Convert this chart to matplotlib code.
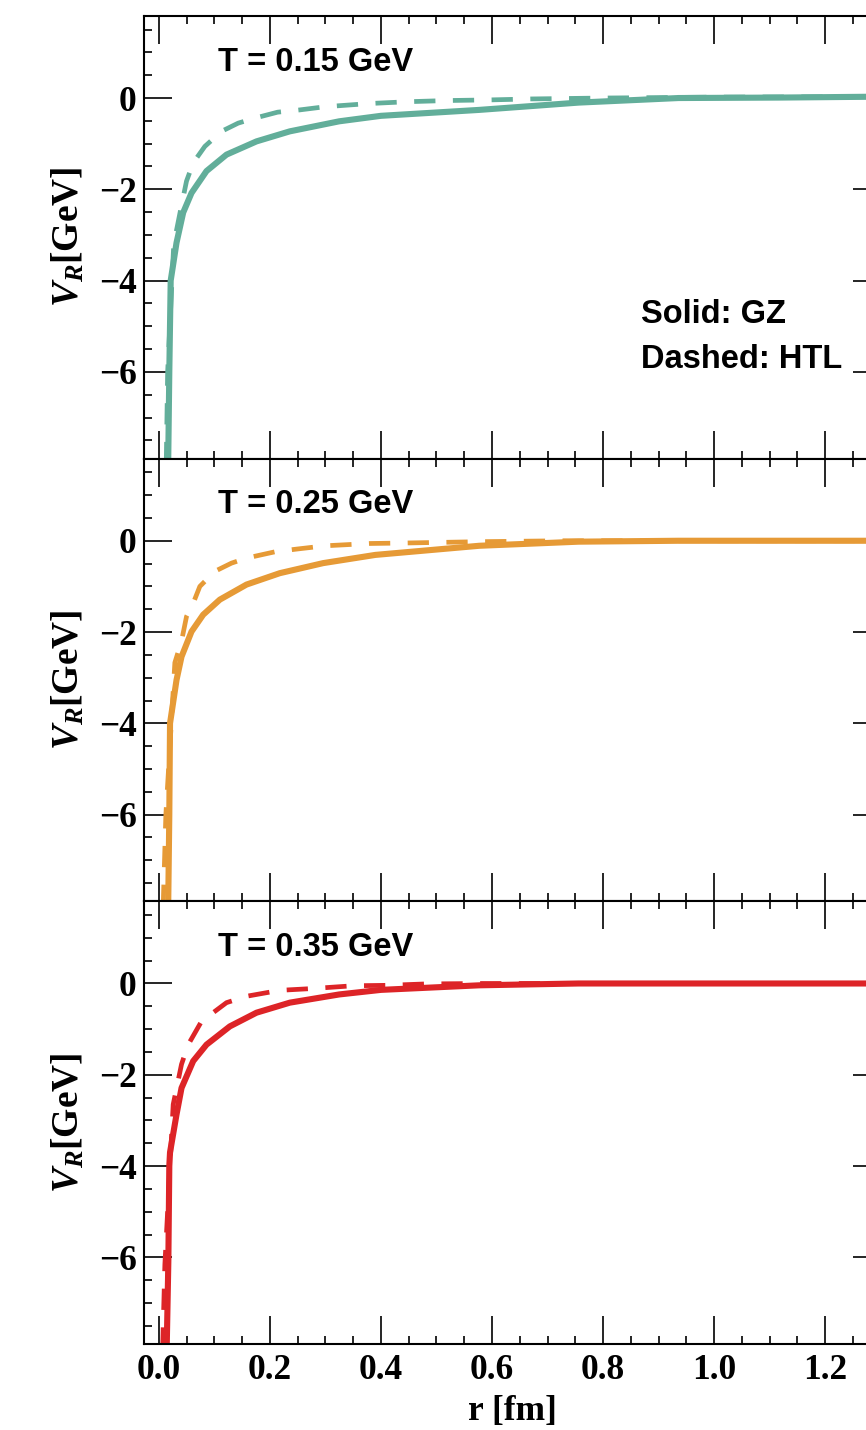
import matplotlib
matplotlib.use("Agg")
import matplotlib.pyplot as plt
from matplotlib.font_manager import FontProperties
from matplotlib.ticker import MultipleLocator, FormatStrFormatter

plt.rcParams['mathtext.fontset'] = 'custom'
plt.rcParams['mathtext.rm'] = 'Liberation Serif:bold'
plt.rcParams['mathtext.it'] = 'Liberation Serif:bold:italic'
plt.rcParams['mathtext.bf'] = 'Liberation Serif:bold'

temps = ["0.15", "0.25", "0.35"]
colors = ["#62AE9A", "#E69A36", "#DD2427"]

# real part of the potential, GZ (solid) and HTL (dashed), r in fm, V in GeV
r_gz_015 = [0.0170, 0.0190, 0.0215, 0.032, 0.044, 0.059, 0.086, 0.122, 0.176,
            0.236, 0.325, 0.400, 0.577, 0.756, 0.936, 1.116, 1.30]
v_gz_015 = [-8.0, -6.0, -4.0, -3.17, -2.51, -2.08, -1.60, -1.24, -0.95,
            -0.73, -0.51, -0.39, -0.26, -0.10, 0.0, 0.01, 0.03]
r_htl_015 = [0.0135, 0.016, 0.027, 0.041, 0.050, 0.062, 0.083, 0.113, 0.143, 0.173,
             0.214, 0.254, 0.30, 0.38, 0.45, 0.52, 0.60, 0.67, 0.80, 1.0, 1.3]
v_htl_015 = [-8.0, -6.0, -3.2, -2.35, -1.82, -1.42, -1.06, -0.73, -0.55, -0.44,
             -0.31, -0.26, -0.19, -0.12, -0.08, -0.055, -0.04, -0.02, 0.0, 0.02, 0.03]

r_gz_025 = [0.0170, 0.019, 0.0203, 0.032, 0.041, 0.059, 0.080, 0.110, 0.158,
            0.218, 0.296, 0.390, 0.577, 0.756, 0.936, 1.30]
v_gz_025 = [-8.0, -6.0, -4.0, -3.05, -2.54, -1.99, -1.62, -1.29, -0.96,
            -0.71, -0.49, -0.31, -0.11, -0.02, 0.0, 0.0]
r_htl_025 = [0.008, 0.0128, 0.029, 0.041, 0.050, 0.062, 0.074, 0.101, 0.131,
             0.158, 0.21, 0.25, 0.30, 0.38, 0.44, 0.58, 0.73, 1.3]
v_htl_025 = [-8.0, -6.0, -2.67, -2.2, -1.66, -1.37, -1.0, -0.67, -0.49,
             -0.38, -0.24, -0.18, -0.11, -0.06, -0.05, -0.02, 0.0, 0.0]

r_gz_035 = [0.0143, 0.0173, 0.019, 0.0203, 0.032, 0.041, 0.062, 0.086, 0.128,
            0.176, 0.236, 0.325, 0.400, 0.577, 0.756, 1.3]
v_gz_035 = [-8.0, -6.07, -4.0, -3.7, -2.87, -2.29, -1.70, -1.34, -0.94,
            -0.64, -0.42, -0.24, -0.14, -0.04, 0.0, 0.0]
r_htl_035 = [0.007, 0.011, 0.026, 0.041, 0.053, 0.077, 0.122, 0.158, 0.218,
             0.278, 0.35, 0.413, 0.48, 0.58, 1.3]
v_htl_035 = [-8.0, -6.16, -2.65, -1.77, -1.34, -0.83, -0.42, -0.28, -0.15,
             -0.11, -0.05, -0.04, -0.01, 0.0, 0.0]

gz = [(r_gz_015, v_gz_015), (r_gz_025, v_gz_025), (r_gz_035, v_gz_035)]
htl = [(r_htl_015, v_htl_015), (r_htl_025, v_htl_025), (r_htl_035, v_htl_035)]

tick_font = FontProperties(family="Liberation Serif", weight="bold", size=25.5)
label_font = dict(family="Liberation Serif", weight="bold", size=27)
sans = dict(family="Liberation Sans", weight="bold", size=23.5)

fig = plt.figure(figsize=(8.66, 14.3), dpi=100)
left, width = 0.166, 0.851
bottom, h = 0.0601, 0.3096

axes = []
for i in range(3):
    ax = fig.add_axes([left, bottom + (2 - i) * h, width, h])
    axes.append(ax)
    r, v = htl[i]
    ax.plot(r, v, color=colors[i], lw=3.4, dashes=(4.5, 3.7), dash_capstyle="butt")
    r, v = gz[i]
    ax.plot(r, v, color=colors[i], lw=4.4, solid_joinstyle="round")

    ax.set_xlim(-0.027, 1.3)
    ax.set_ylim(-7.9, 1.8)
    ax.xaxis.set_major_locator(MultipleLocator(0.2))
    ax.xaxis.set_minor_locator(MultipleLocator(0.05))
    ax.yaxis.set_major_locator(MultipleLocator(2))
    ax.yaxis.set_minor_locator(MultipleLocator(0.5))
    ax.tick_params(which="both", direction="in", top=True, right=True, width=1.2)
    ax.tick_params(which="major", length=20.5)
    ax.tick_params(which="minor", length=5.5)
    ax.tick_params(axis="y", pad=5)
    ax.tick_params(axis="x", pad=7)
    for sp in ax.spines.values():
        sp.set_linewidth(1.5)
    for lab in ax.get_yticklabels():
        lab.set_fontproperties(tick_font)
    ax.set_ylabel(r"$V_R$[GeV]", fontdict=label_font, labelpad=9)
    if i < 2:
        ax.tick_params(axis="x", labelbottom=False)
    else:
        ax.xaxis.set_major_formatter(FormatStrFormatter("%.1f"))
        for lab in ax.get_xticklabels():
            lab.set_fontproperties(tick_font)
        ax.set_xlabel("r [fm]", fontdict=dict(label_font, size=25.5), labelpad=6)

    ax.text(0.107, 0.6, "T = %s GeV" % temps[i], fontdict=sans, va="baseline")

axes[0].text(0.869, -4.93, "Solid: GZ", fontdict=sans, va="baseline")
axes[0].text(0.869, -5.91, "Dashed: HTL", fontdict=sans, va="baseline")

fig.savefig("out.png", dpi=100)
